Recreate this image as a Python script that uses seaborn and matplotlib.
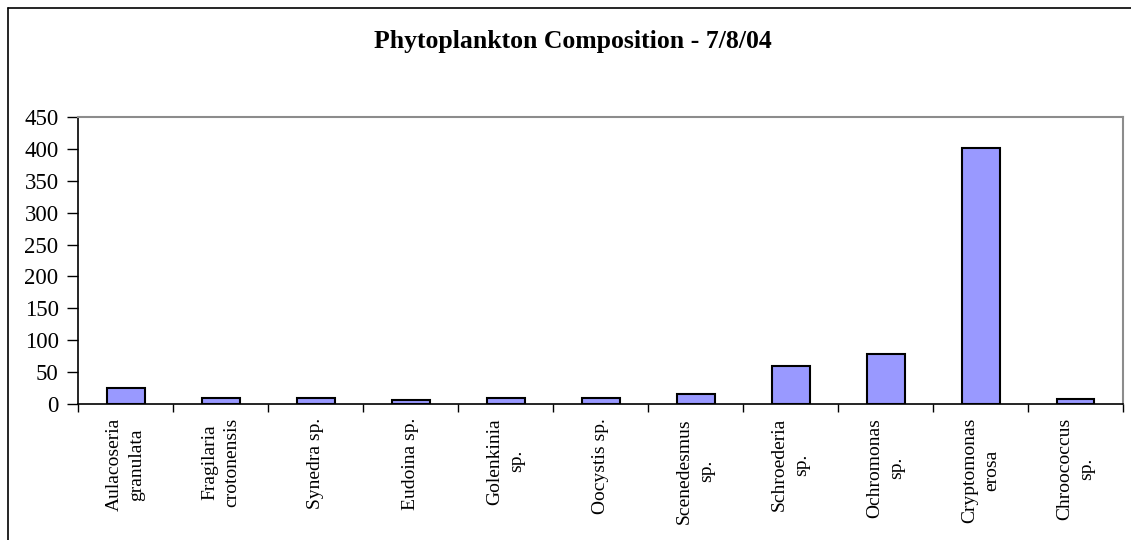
import numpy as np
import pandas as pd
import matplotlib
matplotlib.use("Agg")
import matplotlib.pyplot as plt
import seaborn as sns
from matplotlib.lines import Line2D

# data
species = ["Aulacoseria\ngranulata", "Fragilaria\ncrotonensis", "Synedra sp.",
           "Eudoina sp.", "Golenkinia\nsp.", "Oocystis sp.", "Scenedesmus\nsp.",
           "Schroederia\nsp.", "Ochromonas\nsp.", "Cryptomonas\nerosa",
           "Chroococcus\nsp."]
counts = [25, 9, 9, 6, 9, 9, 15, 59, 78, 402, 8]
y_ticks = [0, 50, 100, 150, 200, 250, 300, 350, 400, 450]

df = pd.DataFrame({"species": species, "count": counts})

sns.set_style("white")
plt.rcParams['font.family'] = ['Liberation Serif', 'DejaVu Serif']
plt.rcParams['text.color'] = 'black'
plt.rcParams['xtick.color'] = 'black'
plt.rcParams['ytick.color'] = 'black'
plt.rcParams['axes.labelcolor'] = 'black'

fig = plt.figure(figsize=(11.31, 5.4), dpi=100)
ax = fig.add_axes([78 / 1131, 1 - 404 / 540, (1123 - 78) / 1131, (404 - 117) / 540])

sns.barplot(data=df, x="species", y="count", color="#9999FF", saturation=1,
            edgecolor="black", linewidth=1.5, width=0.4, ax=ax)

n = len(species)
ax.set_xlim(-0.5, n - 0.5)
ax.set_ylim(0, 450)
ax.set_yticks(y_ticks)
ax.set_yticklabels([str(v) for v in y_ticks], fontsize=16.5)
ax.set_xlabel("")
ax.set_ylabel("")

# labels at category centres, tick marks at boundaries (Excel style)
ax.set_xticks(np.arange(n))
ax.set_xticklabels(species, rotation=90, fontsize=14, ha="center", va="top",
                   multialignment="center", linespacing=1.35)
ax.set_xticks(np.arange(n + 1) - 0.5, minor=True)
ax.tick_params(axis="x", which="major", length=0, pad=10, bottom=True)
ax.tick_params(axis="x", which="minor", length=6, width=1, color="black",
               direction="out", bottom=True)
ax.tick_params(axis="y", length=8, width=1, color="black", direction="out", pad=6, left=True)

for side in ["left", "bottom"]:
    ax.spines[side].set_color("black")
    ax.spines[side].set_linewidth(1.2)
for side in ["top", "right"]:
    ax.spines[side].set_visible(True)
    ax.spines[side].set_color("#8c8c8c")
    ax.spines[side].set_linewidth(1.5)

fig.text(573 / 1131, 1 - 42 / 540, "Phytoplankton Composition - 7/8/04",
         ha="center", va="center", fontsize=18.5, fontweight="bold")

# outer chart border (only left and top visible in the crop)
x0, y0 = 7.5 / 1131, 1 - 8 / 540
fig.add_artist(Line2D([x0, x0], [y0, 0], color="black", lw=1.2, transform=fig.transFigure))
fig.add_artist(Line2D([x0, 1], [y0, y0], color="black", lw=1.2, transform=fig.transFigure))

fig.savefig("out.png", dpi=100)
